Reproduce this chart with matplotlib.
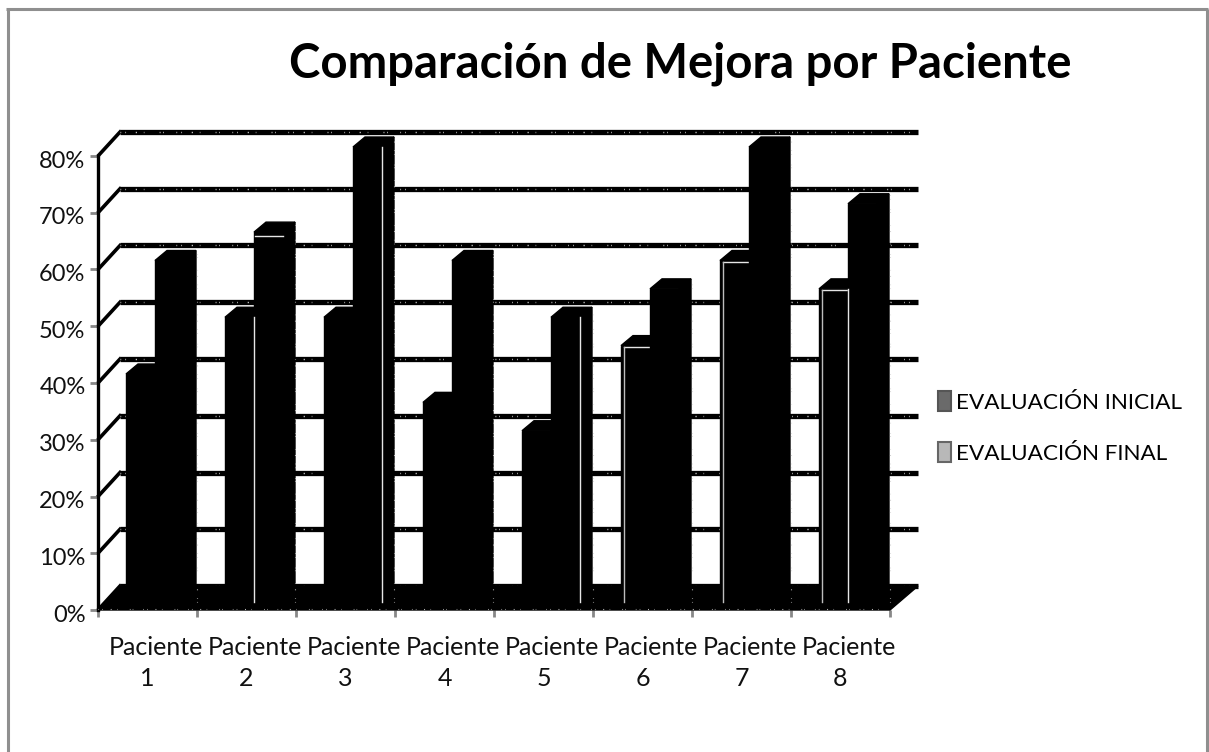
import matplotlib
matplotlib.use('Agg')
import matplotlib.pyplot as plt
from matplotlib.patches import Polygon, Patch
from matplotlib.transforms import ScaledTranslation

plt.rcParams['font.family'] = ['Lato', 'DejaVu Sans']

pacientes = ['Paciente', 'Paciente', 'Paciente', 'Paciente',
             'Paciente', 'Paciente', 'Paciente', 'Paciente']
numeros = ['1', '2', '3', '4', '5', '6', '7', '8']
inicial = [40, 50, 50, 35, 30, 45, 60, 55]
final = [60, 65, 80, 60, 50, 55, 80, 70]
niveles = [0, 10, 20, 30, 40, 50, 60, 70, 80]

# barras con el filo claro que se ve en la imagen: (paciente, serie)
filo_derecho = [(1, 0), (2, 1), (4, 1), (7, 0)]
filo_izquierdo = [(5, 0), (6, 0), (7, 0)]
filo_superior = [(1, 1)]

W, H = 1209, 752
X0, X1, Y0, Y1 = 98, 890, 610, 156
px = 8 / (X1 - X0)
py = 80 / (Y0 - Y1)

fig = plt.figure(figsize=(W / 100, H / 100), dpi=100)
ax = fig.add_axes([X0 / W, 1 - Y0 / H, (X1 - X0) / W, (Y0 - Y1) / H])
ax.set_xlim(0, 8)
ax.set_ylim(0, 80)

# marco exterior, sin borde inferior
marco = dict(color='#8f8f8f', lw=2.2, transform=fig.transFigure, solid_capstyle='butt')
fig.add_artist(plt.Line2D([7.5 / W, 7.5 / W], [0, 1 - 8.5 / H], **marco))
fig.add_artist(plt.Line2D([6 / W, 1208 / W], [1 - 8.5 / H, 1 - 8.5 / H], **marco))
fig.add_artist(plt.Line2D([1207 / W, 1207 / W], [0, 1 - 8.5 / H], **marco))

dx = 22 * px
dy = 24 * py
fin = 8 + 28 * px

# suelo negro
ax.add_patch(Polygon([(0, 0), (8, 0), (fin, dy), (dx, dy)], closed=True,
                     facecolor='black', edgecolor='black', linewidth=1, clip_on=False, zorder=2))

# motas claras de la rejilla, patron fijo
motas = (0.5, 3, 0.5, 7, 0.8, 5, 0.4, 11, 0.6, 2, 0.5, 9)

ax.plot([0, 8], [1.5 * py, 1.5 * py], color='#cccccc', lw=0.8, dashes=motas, clip_on=False, zorder=7)

# rejilla del fondo y pared lateral
for n in niveles:
    ax.plot([dx, fin], [n + dy, n + dy], color='black', lw=3.8, clip_on=False,
            solid_capstyle='butt', zorder=1)
    ax.plot([dx, fin], [n + dy, n + dy], color='#dddddd', lw=1.0, dashes=motas, clip_on=False,
            zorder=1.5)
    ax.plot([0, dx], [n, n + dy], color='black', lw=2.6, clip_on=False, zorder=1)


def barra(i, serie, valor):
    x = i + (28 + 29 * serie) * px
    ancho = 29 * px
    fx, fy = 12 * px, 10 * py
    base = 8.5 * py
    top = valor + 9 * py
    ax.add_patch(Polygon([(x, base), (x + ancho, base), (x + ancho, top), (x, top)], closed=True,
                         facecolor='black', edgecolor='black', linewidth=1, clip_on=False, zorder=4 + serie))
    ax.add_patch(Polygon([(x + ancho, base), (x + ancho + fx, base + fy), (x + ancho + fx, top + fy),
                          (x + ancho, top)], closed=True, facecolor='black', edgecolor='black',
                         linewidth=1, clip_on=False, zorder=3 + serie))
    ax.add_patch(Polygon([(x, top), (x + ancho, top), (x + ancho + fx, top + fy), (x + fx, top + fy)],
                         closed=True, facecolor='black', edgecolor='black', linewidth=1,
                         clip_on=False, zorder=3 + serie))
    # puntos claros en el contorno exterior
    ax.plot([x + ancho + fx + 0.5 * px] * 2, [base, top + fy], color='#cccccc', lw=0.8, dashes=motas,
            clip_on=False, zorder=5 + serie)
    if (i, serie) in filo_derecho:
        ax.plot([x + ancho] * 2, [base, top], color='#e6e6e6', lw=1, clip_on=False, zorder=6)
    if (i, serie) in filo_izquierdo:
        ax.plot([x + 3 * px] * 2, [base, top - 1.5 * py], color='#bdbdbd', lw=1, clip_on=False, zorder=6)
        ax.plot([x + 3 * px, x + ancho], [top - 1.5 * py] * 2, color='#e6e6e6', lw=1, clip_on=False, zorder=4.5)
    if (i, serie) in filo_superior:
        ax.plot([x + 1 * px, x + ancho], [top - 4 * py] * 2, color='#e6e6e6', lw=1, clip_on=False, zorder=6)


for i in range(len(pacientes)):
    barra(i, 0, inicial[i])
    barra(i, 1, final[i])

# ejes
ax.spines[['top', 'right']].set_visible(False)
ax.spines['left'].set_linewidth(2.4)
ax.spines['bottom'].set_visible(False)
ax.patch.set_visible(False)

ax.set_yticks(niveles)
ax.set_yticklabels(['%d%%' % n for n in niveles], fontsize=17, color='#111111')
ax.set_xticks(range(9))
ax.set_xticklabels([])
# "Paciente" va algo a la derecha del numero, como en el original
ax.set_xticks([i + 0.5 + 8 * px for i in range(8)], minor=True)
ax.set_xticklabels(pacientes, minor=True, fontsize=18, color='#111111')
ax.tick_params(axis='x', which='minor', length=0, pad=19)
ax.tick_params(axis='x', which='major', length=5, width=2, color='#888888')
ax.tick_params(axis='y', length=6, width=2, color='#888888', pad=3)

for i, num in enumerate(numeros):
    ax.text(i + 0.5, -69 * py, num, fontsize=18, color='#111111', ha='center', va='center', clip_on=False)

bajar = ScaledTranslation(0, -3 / 100, fig.dpi_scale_trans)
for etiqueta in ax.get_yticklabels():
    etiqueta.set_transform(etiqueta.get_transform() + bajar)

fig.text(680 / W, 1 - 64 / H, 'Comparación de Mejora por Paciente', fontsize=34, fontweight='bold',
         ha='center', va='center', color='black')

handles = [Patch(facecolor='#6a6a6a', edgecolor='#555555', linewidth=1.5, label='EVALUACIÓN INICIAL'),
           Patch(facecolor='#b8b8b8', edgecolor='#666666', linewidth=1.5, label='EVALUACIÓN FINAL')]
fig.legend(handles=handles, loc='center left', bbox_to_anchor=(937.5 / W, 1 - 427.5 / H), frameon=False,
           fontsize=16.2, handlelength=0.62, handleheight=0.95, handletextpad=0.22, labelspacing=1.33,
           borderpad=0, borderaxespad=0)

fig.savefig('out.png', dpi=100)
